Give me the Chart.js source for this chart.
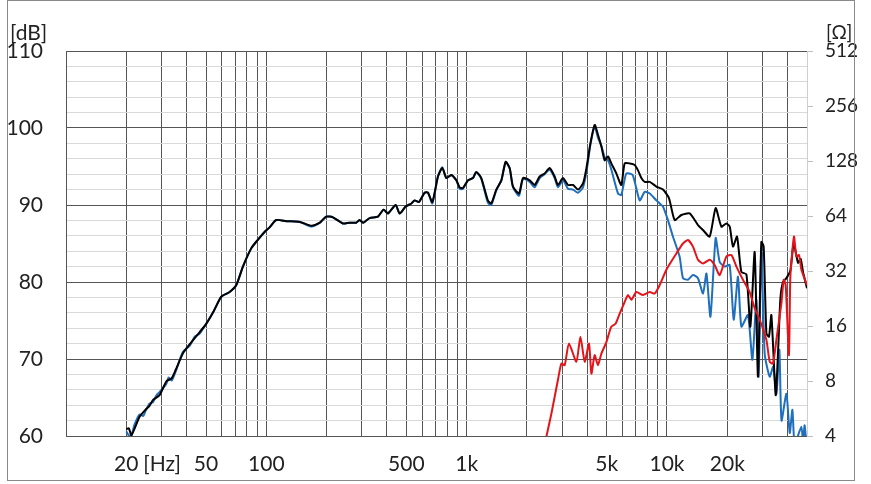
<!DOCTYPE html>
<html>
<head>
<meta charset="utf-8">
<script src="https://cdn.jsdelivr.net/npm/chart.js@4.4.1/dist/chart.umd.min.js"></script>
<style>
  html, body { margin: 0; padding: 0; background: #fff; }
  #wrap { position: relative; width: 871px; height: 484px; }
</style>
</head>
<body>
<div id="wrap"><canvas id="chart" width="871" height="484"></canvas></div>
<script>
// ---- data ----
const xTickValues = [20, 50, 100, 500, 1000, 5000, 10000, 20000];
const xTickLabels = ["20", "50", "100", "500", "1k", "5k", "10k", "20k"];
const ohmTicks = [4, 8, 16, 32, 64, 128, 256, 512];

// black curve
const blackFreq = [20, 20.6, 21.2, 23.3, 24.9, 26.1, 27.2, 29.3, 31.7, 33.7, 35.3, 38.3, 41.4, 43.9, 46.5, 50.2,
  54.6, 59.6, 65.6, 70.8, 76.4, 84.2, 90.5, 98, 103.8, 112, 126, 147, 168, 185, 199, 215, 241, 260, 281, 292,
  304, 328, 361, 385, 405, 442, 463, 496, 530, 550, 578, 617, 641, 674, 719, 756, 792, 839, 889, 923, 958,
  1015, 1075, 1117, 1183, 1276, 1327, 1406, 1490, 1566, 1640, 1703, 1825, 1911, 2064, 2185, 2315, 2451, 2596,
  2750, 2856, 3026, 3206, 3396, 3597, 3810, 3963, 4147, 4356, 4529, 4705, 4887, 5076, 5274, 5585, 5917, 6150,
  6515, 6902, 7167, 7450, 7740, 8199, 8850, 9550, 10230, 10920, 11800, 12980, 14280, 15130, 16340, 17500,
  18690, 19800, 20560, 21360, 22370, 23520, 24920, 26070, 27400, 28460, 29580, 30380, 31360, 32300, 33200,
  34880, 35820, 36840, 37940, 39460, 41300, 42920, 45080, 46500, 47760, 50000];
const blackDb = [60.9, 61.0, 60.1, 62.5, 63.4, 63.9, 64.7, 65.3, 67.1, 67.5, 68.6, 70.7, 71.9, 72.7, 73.5, 74.6,
  76.2, 78.1, 78.7, 79.6, 82.0, 84.4, 85.45, 86.5, 87.1, 88.05, 87.9, 87.8, 87.3, 87.7, 88.5, 88.4, 87.6, 87.7, 87.7, 88.05,
  87.7, 88.3, 88.5, 89.4, 88.9, 90.0, 88.9, 89.8, 90.2, 90.6, 90.4, 91.6, 91.6, 90.4, 93.7, 94.8, 93.5, 93.9, 93.2, 92.3, 92.2,
  93.2, 93.5, 94.3, 93.5, 90.6, 90.2, 92.0, 93.2, 95.6, 94.8, 92.4, 91.5, 93.5, 93.2, 92.6, 93.7, 94.1, 94.8,
  93.7, 92.6, 93.5, 92.6, 92.6, 92.0, 92.8, 94.8, 98.0, 100.4, 99.1, 97.6, 95.8, 96.3, 95.4, 94.1, 92.6, 95.4,
  95.4, 95.2, 94.5, 93.5, 93.0, 93.0, 92.4, 92.0, 90.9, 88.05, 88.7, 88.9, 87.4, 86.75, 85.9, 89.6,
  87.2, 87.6, 87.2, 84.6, 85.9, 81.3, 81.0, 74.2, 83.9, 67.7, 85.2, 84.6, 73.3, 72.9, 75.7,
  65.3, 70.7, 77.9, 80.0, 80.5, 81.5, 85.0, 82.5, 83.0, 81.3, 79.2];

// blue curve
const blueFreq = [20, 21, 22, 23.3, 24.3, 24.9, 26.1, 27.2, 28.3, 29.3, 31.7, 32.5, 33.7, 35.3, 38.3, 41.4, 43.9, 46.5, 50.2,
  54.6, 59.6, 65.6, 70.8, 76.4, 84.2, 90.5, 98, 103.8, 112, 126, 147, 168, 185, 199, 215, 241, 260, 281, 292,
  304, 328, 361, 385, 405, 442, 463, 496, 530, 550, 578, 617, 641, 674, 719, 756, 792, 839, 889, 923, 958,
  1015, 1075, 1117, 1183, 1276, 1327, 1406, 1490, 1566, 1640, 1703, 1825, 1911, 2064, 2185, 2315, 2451, 2596,
  2750, 2856, 3026, 3206, 3396, 3597, 3810, 3963, 4147, 4356, 4529, 4705, 4887, 5076, 5274, 5693, 5917, 6266,
  6743, 7305, 7740, 8199, 8850, 9195, 9550, 10120, 10710, 11560, 12020, 12730, 13480, 14280, 15130, 15740, 16480,
  17500, 18320, 19410, 20560, 21530, 22620, 23520, 25360, 26690, 27940, 28700, 29580, 30740, 32570, 33900,
  35200, 36400, 37300, 39460, 41000, 42270, 43410, 46890, 47760, 48650, 50000];
const blueDb = [60.6, 59.8, 61.5, 62.8, 62.6, 63.2, 64.2, 64.4, 65.3, 65.7, 66.8, 67.6, 67.2, 68.4, 70.9, 71.7, 72.9, 73.3, 74.6,
  76.2, 78.1, 78.7, 79.6, 82.0, 84.4, 85.45, 86.5, 87.1, 88.05, 87.9, 87.8, 87.2, 87.7, 88.5, 88.4, 87.6, 87.7, 87.7, 88.05,
  87.7, 88.3, 88.5, 89.4, 88.9, 90.0, 88.9, 89.8, 90.2, 90.6, 90.4, 91.6, 91.6, 90.2, 93.7, 94.9, 93.5, 93.9, 93.2, 92.1, 92.1,
  93.2, 93.5, 94.3, 93.4, 90.3, 90.0, 91.9, 93.2, 95.6, 94.7, 92.3, 91.2, 93.4, 93.0, 92.3, 93.5, 94.0, 94.6,
  93.5, 92.3, 93.2, 92.1, 92.0, 91.6, 92.3, 94.3, 97.8, 100.2, 98.7, 97.7, 96.2, 95.8, 94.6, 91.5, 91.3, 94.1,
  93.9, 90.6, 91.7, 91.5, 90.6, 90.2, 89.8, 88.0, 85.9, 83.3, 80.5, 80.3, 80.9, 80.5, 78.5, 81.1, 75.5,
  85.7, 82.6, 82.0, 82.2, 75.1, 80.7, 74.2, 75.7, 69.9, 77.7, 67.7, 84.4, 70.7, 67.7, 69.0,
  65.5, 71.2, 62.0, 65.5, 60.4, 63.4, 59.0, 61.2, 59.0, 61.4, 58.0];

// red curve
const redFreq = [2480, 2648, 2856, 2970, 3085, 3240, 3530, 3697, 3884, 4080, 4195, 4356, 4524, 4705, 4983, 5274,
  5546, 5806, 6100, 6385, 6640, 7034, 7590, 8199, 8683, 9195, 9930, 11140, 12020, 12730, 13480, 14280, 15130,
  16340, 17300, 18320, 19800, 20970, 22210, 23950, 25880, 27400, 29040, 31340, 32570, 33810, 35170, 37240,
  38270, 39140, 40640, 41300, 43050, 44250, 45600, 46890, 50000];
const redDb = [59.5, 62.9, 67.3, 69.4, 69.2, 72.0, 69.65, 72.9, 69.65, 72.0, 68.1, 70.5, 69.2, 70.7, 72.2, 74.2,
  74.6, 75.9, 77.2, 78.3, 77.7, 78.7, 78.3, 78.7, 78.5, 79.6, 81.6, 83.7, 85.0, 85.45, 84.6, 82.9, 82.4,
  82.9, 82.2, 80.9, 83.3, 83.5, 82.0, 80.3, 78.7, 76.6, 75.1, 72.5, 69.65, 69.4, 72.5, 77.2,
  80.3, 79.6, 70.5, 80.7, 85.9, 83.3, 83.5, 81.6, 79.6];

const pts = (xs, ys) => xs.map((x, i) => ({ x: x, y: ys[i] }));

const FONT = "Lato, 'Open Sans', sans-serif";
const DARK = "#555555";
const LIGHT = "#d9d9d9";

// extra texts + outer frame
const frame = {
  id: "frame",
  beforeDraw(chart) {
    const c = chart.ctx;
    c.save();
    c.fillStyle = "#fff";
    c.fillRect(0, 0, chart.width, chart.height);
    c.restore();
  },
  afterDraw(chart) {
    const c = chart.ctx;
    c.save();
    c.strokeStyle = "#8a8a8a";
    c.lineWidth = 1;
    c.strokeRect(7.5, 0.5, 847, 480);
    c.fillStyle = "#222";
    c.textBaseline = "alphabetic";
    c.textAlign = "left";
    c.font = "21px " + FONT;
    c.fillText("[dB]", 10, 40);
    c.font = "19px " + FONT;
    c.fillText("[\u03A9]", 826, 39);
    c.font = "21px " + FONT;
    c.textBaseline = "middle";
    const x20 = chart.scales.x.getPixelForValue(20);
    c.fillText("[Hz]", x20 + 17, 464);
    c.restore();
  }
};

new Chart(document.getElementById("chart"), {
  type: "line",
  data: {
    datasets: [
      { label: "red", data: pts(redFreq, redDb), borderColor: "#e4141b", borderWidth: 2, pointRadius: 0, tension: 0.2 },
      { label: "black", data: pts(blackFreq, blackDb), borderColor: "#000000", borderWidth: 2, pointRadius: 0, tension: 0.2 },
      { label: "blue", data: pts(blueFreq, blueDb), borderColor: "#1f6fbd", borderWidth: 2, pointRadius: 0, tension: 0.2 }
    ]
  },
  options: {
    responsive: false,
    animation: false,
    devicePixelRatio: 1,
    layout: { padding: { top: 51, left: 0, right: 0, bottom: 0 } },
    plugins: { legend: { display: false }, tooltip: { enabled: false } },
    scales: {
      x: {
        type: "logarithmic",
        min: 10,
        max: 50000,
        afterBuildTicks(scale) {
          const t = [];
          for (let d = 10; d <= 10000; d *= 10) {
            for (let m = 1; m <= 9; m++) {
              const v = d * m;
              if (v < 50000) t.push({ value: v });
            }
          }
          scale.ticks = t;
        },
        afterFit(scale) { scale.height = 48; },
        grid: { color: DARK, lineWidth: 1, drawTicks: false },
        border: { color: DARK },
        ticks: {
          autoSkip: false,
          maxRotation: 0,
          minRotation: 0,
          padding: 16,
          color: "#222",
          font: { family: FONT, size: 21 },
          callback(v) {
            const i = xTickValues.indexOf(v);
            return i >= 0 ? xTickLabels[i] : "";
          }
        }
      },
      y: {
        type: "linear",
        position: "left",
        min: 60,
        max: 110,
        afterFit(scale) { scale.width = 66; },
        grid: {
          drawTicks: false,
          lineWidth: 1,
          color: ctx => (ctx.tick && ctx.tick.value % 10 === 0) ? DARK : LIGHT
        },
        border: { color: DARK },
        ticks: {
          autoSkip: false,
          stepSize: 2,
          padding: 23,
          color: "#222",
          font: { family: FONT, size: 21 },
          callback: v => (v % 10 === 0 ? String(v) : "")
        }
      },
      y2: {
        type: "logarithmic",
        position: "right",
        min: 4,
        max: 512,
        afterBuildTicks(scale) {
          scale.ticks = ohmTicks.map(v => ({ value: v }));
        },
        afterFit(scale) { scale.width = 64; },
        grid: { drawOnChartArea: false, drawTicks: true, tickLength: 6, color: "#bfbfbf" },
        border: { color: "#cfcfcf" },
        ticks: {
          autoSkip: false,
          padding: 12,
          color: "#222",
          font: { family: FONT, size: 19 },
          callback: v => String(v)
        }
      }
    }
  },
  plugins: [frame]
});
</script>
</body>
</html>
